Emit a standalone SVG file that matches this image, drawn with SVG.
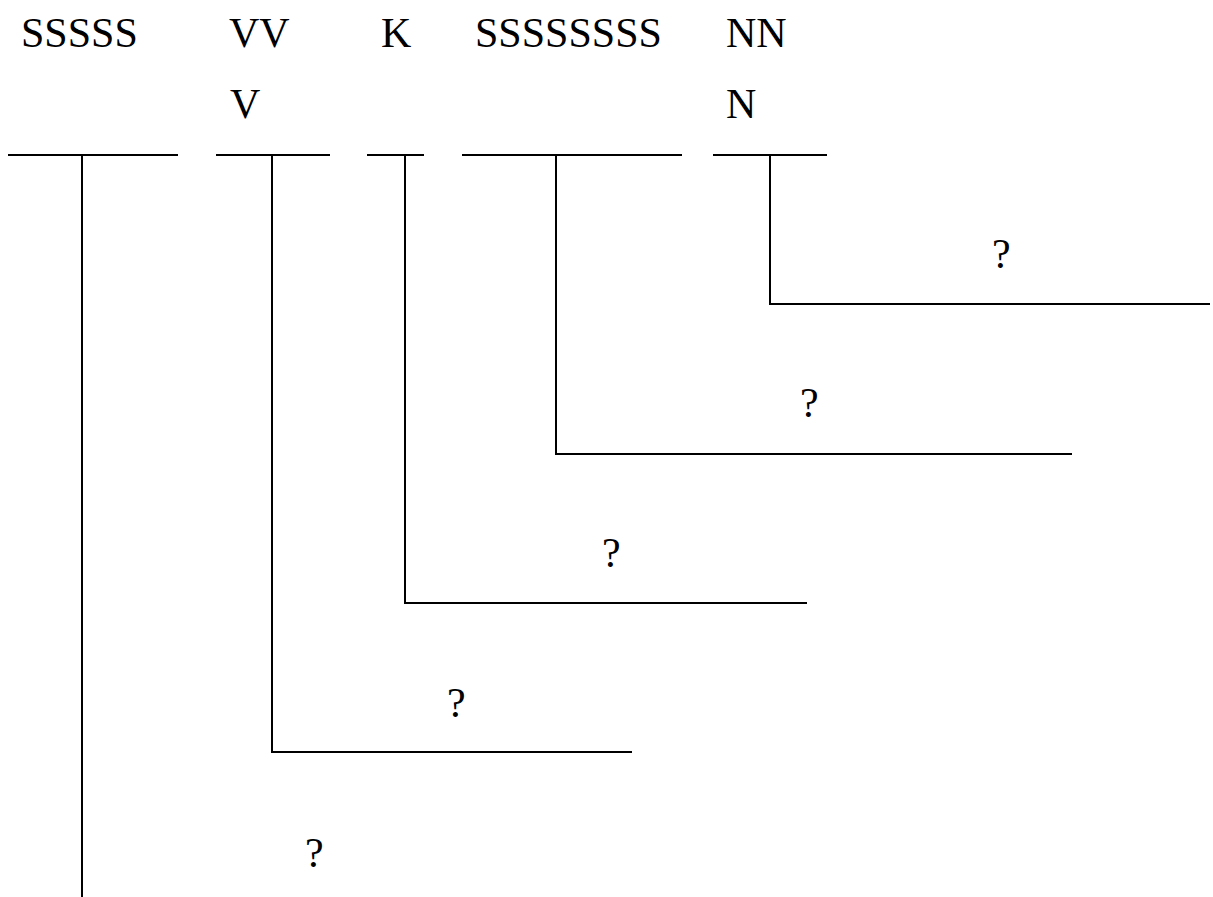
<svg xmlns="http://www.w3.org/2000/svg" width="1213" height="897" viewBox="0 0 1213 897">
<style>
text{font-family:'Liberation Serif','Times New Roman',serif;font-size:42px;fill:#000}
.c{fill:none;stroke:#000;stroke-width:2}
</style>
<rect width="1213" height="897" fill="#fff"/>
<g id="headers">
<g id="h1"><text x="21" y="47">SSSSS</text></g>
<g id="h2"><text x="229" y="47">VV</text><text x="230" y="118">V</text></g>
<g id="h3"><text x="381" y="47">K</text></g>
<g id="h4"><text x="475" y="47">SSSSSSSS</text></g>
<g id="h5"><text x="726" y="47">NN</text><text x="726" y="118">N</text></g>
</g>
<g id="connectors">
<path class="c" d="M8 155H178M216 155H330M367 155H424M462 155H682M713 155H827"/>
<path class="c" d="M82 155V897"/>
<path class="c" d="M272 155V752H632"/>
<path class="c" d="M405 155V603H807"/>
<path class="c" d="M556 155V454H1072"/>
<path class="c" d="M770 155V304H1210"/>
</g>
<g id="labels">
<g id="q1"><text x="992" y="268">?</text></g>
<g id="q2"><text x="800" y="417">?</text></g>
<g id="q3"><text x="602" y="567">?</text></g>
<g id="q4"><text x="447" y="717">?</text></g>
<g id="q5"><text x="305" y="867">?</text></g>
</g>
</svg>
